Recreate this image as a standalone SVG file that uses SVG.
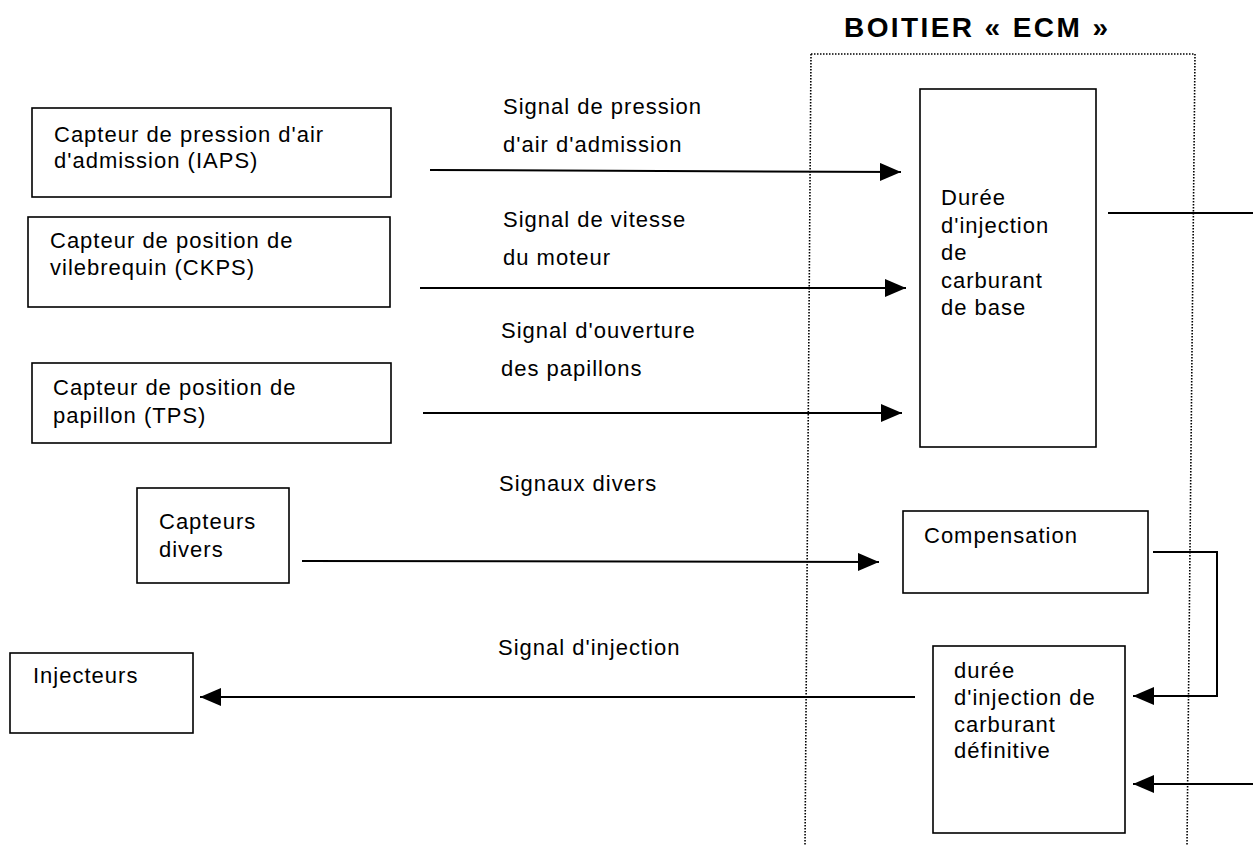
<svg xmlns="http://www.w3.org/2000/svg" width="1253" height="846" viewBox="0 0 1253 846">
<style>
  .box { fill: none; stroke: #000; stroke-width: 1.6; }
  .t { font-family: "Liberation Sans", Arial, sans-serif; font-size: 22px; letter-spacing: 1px; fill: #000; }
  .title { font-family: "Liberation Sans", Arial, sans-serif; font-size: 28px; font-weight: bold; fill: #000; }
  .conn { fill: none; stroke: #000; stroke-width: 2; }
  .ecm { fill: none; stroke: #000; stroke-width: 1.6; stroke-dasharray: 1.5 1.5; }
</style>
<defs>
  <marker id="arrow" markerUnits="userSpaceOnUse" markerWidth="22" markerHeight="18" refX="21" refY="9" orient="auto">
    <path d="M0,0 L21,9 L0,18 z" fill="#000"/>
  </marker>
</defs>
<rect width="1253" height="846" fill="#fff"/>

<g id="ecm">
  <text class="title" x="844" y="37" textLength="264" lengthAdjust="spacing">BOITIER « ECM »</text>
  <line class="ecm" x1="811" y1="54" x2="1195" y2="54"/>
  <line class="ecm" x1="811" y1="54" x2="805" y2="846"/>
  <line class="ecm" x1="1195" y1="54" x2="1187" y2="846"/>
</g>

<g id="iaps">
  <rect class="box" x="32" y="108" width="359" height="89"/>
  <text class="t" x="54" y="142">Capteur de pression d'air</text>
  <text class="t" x="54" y="168">d'admission (IAPS)</text>
</g>
<g id="ckps">
  <rect class="box" x="28" y="217" width="362" height="90"/>
  <text class="t" x="50" y="248">Capteur de position de</text>
  <text class="t" x="50" y="275">vilebrequin (CKPS)</text>
</g>
<g id="tps">
  <rect class="box" x="32" y="363" width="359" height="80"/>
  <text class="t" x="53" y="395">Capteur de position de</text>
  <text class="t" x="53" y="423">papillon (TPS)</text>
</g>
<g id="divers">
  <rect class="box" x="137" y="488" width="152" height="95"/>
  <text class="t" x="159" y="529">Capteurs</text>
  <text class="t" x="159" y="557">divers</text>
</g>
<g id="injecteurs">
  <rect class="box" x="10" y="653" width="183" height="80"/>
  <text class="t" x="33" y="683">Injecteurs</text>
</g>
<g id="base">
  <rect class="box" x="920" y="89" width="176" height="358"/>
  <text class="t" x="941" y="205">Durée</text>
  <text class="t" x="941" y="233">d'injection</text>
  <text class="t" x="941" y="260">de</text>
  <text class="t" x="941" y="288">carburant</text>
  <text class="t" x="941" y="315">de base</text>
</g>
<g id="compensation">
  <rect class="box" x="903" y="511" width="245" height="82"/>
  <text class="t" x="924" y="543">Compensation</text>
</g>
<g id="definitive">
  <rect class="box" x="933" y="646" width="192" height="187"/>
  <text class="t" x="954" y="678">durée</text>
  <text class="t" x="954" y="705">d'injection de</text>
  <text class="t" x="954" y="732">carburant</text>
  <text class="t" x="954" y="758">définitive</text>
</g>

<g id="labels">
  <text class="t" x="503" y="114">Signal de pression</text>
  <text class="t" x="503" y="152">d'air d'admission</text>
  <text class="t" x="503" y="227">Signal de vitesse</text>
  <text class="t" x="503" y="265">du moteur</text>
  <text class="t" x="501" y="338">Signal d'ouverture</text>
  <text class="t" x="501" y="376">des papillons</text>
  <text class="t" x="499" y="491">Signaux divers</text>
  <text class="t" x="498" y="655">Signal d'injection</text>
</g>

<g id="connectors">
  <line class="conn" x1="430" y1="170" x2="901" y2="172" marker-end="url(#arrow)"/>
  <line class="conn" x1="420" y1="288" x2="906" y2="288" marker-end="url(#arrow)"/>
  <line class="conn" x1="423" y1="413" x2="902" y2="413" marker-end="url(#arrow)"/>
  <line class="conn" x1="302" y1="561" x2="879" y2="562" marker-end="url(#arrow)"/>
  <line class="conn" x1="915" y1="697" x2="200" y2="697" marker-end="url(#arrow)"/>
  <polyline class="conn" points="1153,552 1217,552 1217,696 1133,696" marker-end="url(#arrow)"/>
  <line class="conn" x1="1253" y1="784" x2="1133" y2="784" marker-end="url(#arrow)"/>
  <line class="conn" x1="1108" y1="213" x2="1253" y2="213"/>
</g>
</svg>
